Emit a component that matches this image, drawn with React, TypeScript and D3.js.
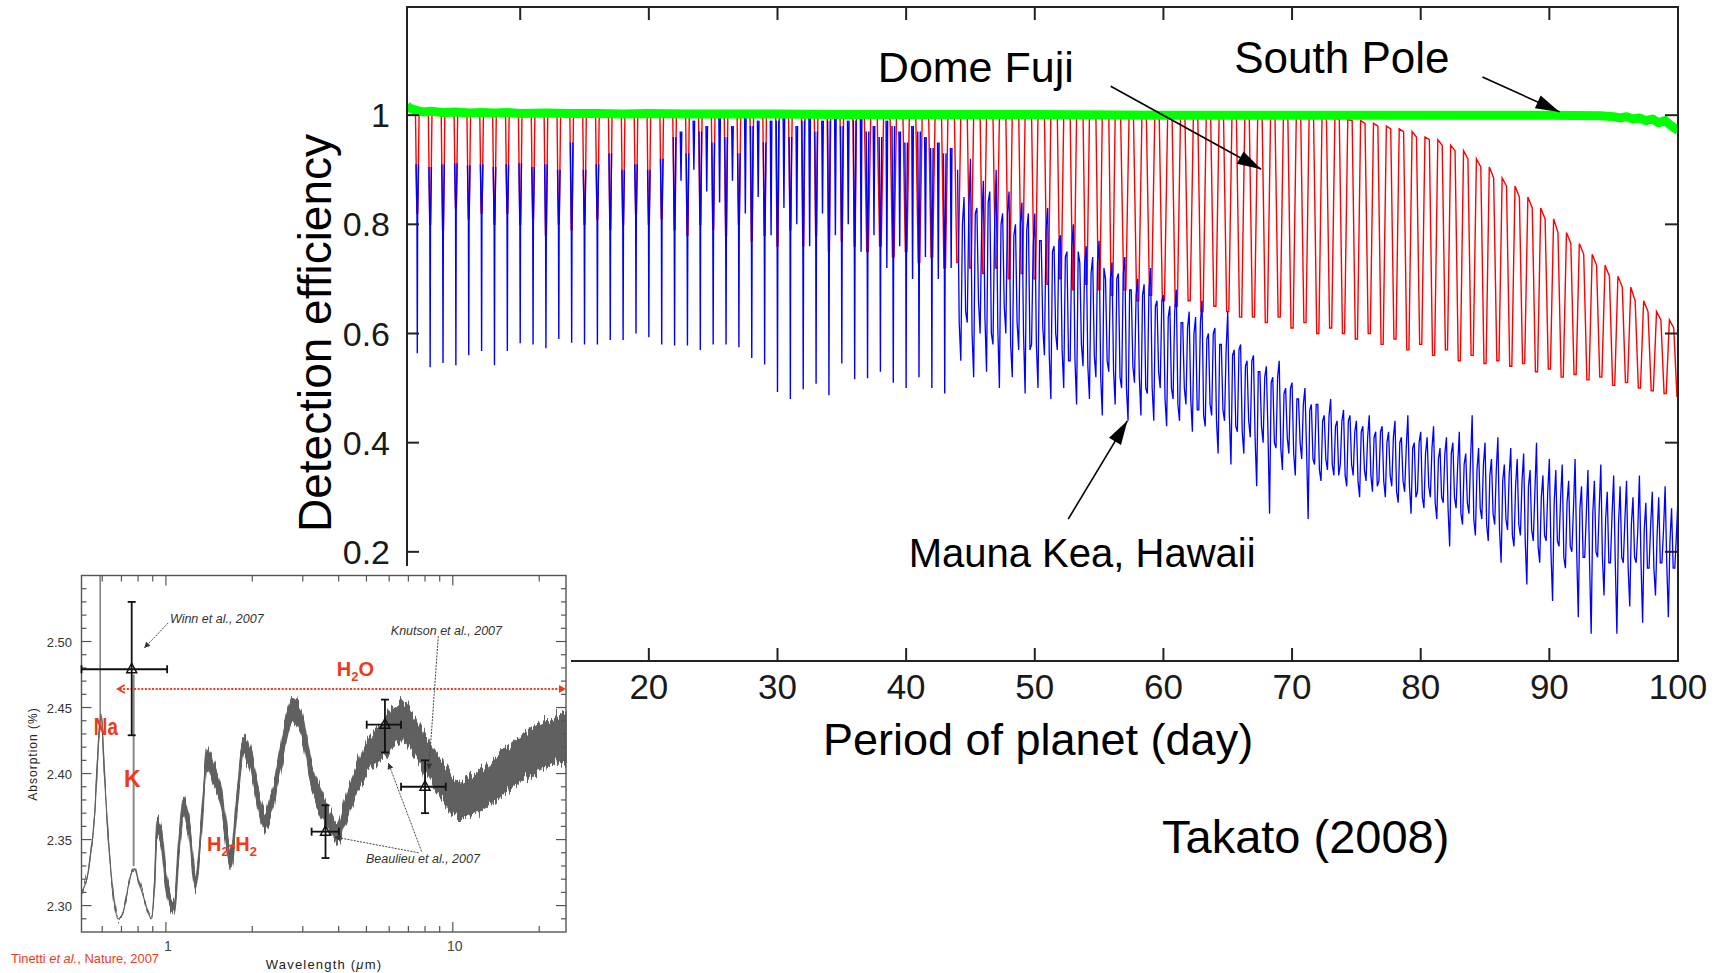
import React from "react";
import * as d3 from "d3";

const W = 1716;
const H = 973;

// ---------------- Main chart data ----------------
const xTicks = [10, 20, 30, 40, 50, 60, 70, 80, 90, 100];
const yTicks = [0.2, 0.4, 0.6, 0.8, 1];
const yTickLabels = ["0.2", "0.4", "0.6", "0.8", "1"];

// Dome Fuji (red): one dip per integer day, peak level and trough level
const domeFujiDays = d3.range(2, 101);
const domeFujiPeak = [
  1, 1, 1, 1, 1, 1, 1, 1, 1, 1,
  1, 1, 1, 1, 1, 1, 1, 1, 1, 1,
  1, 1, 1, 1, 1, 1, 1, 1, 1, 1,
  1, 1, 1, 1, 1, 1, 1, 1, 1, 1,
  1, 1, 1, 1, 1, 1, 1, 1, 1, 1,
  1, 1, 1, 1, 1, 1, 1, 1, 1, 1,
  1, 1, 1, 1, 1, 1, 1, 1, 1, 1,
  0.998, 0.995, 0.992, 0.99, 0.985, 0.98,
  0.975, 0.97, 0.96, 0.955, 0.945, 0.935, 0.92, 0.905, 0.885, 0.87,
  0.85, 0.83, 0.81, 0.785, 0.765, 0.745, 0.725, 0.705, 0.685, 0.66,
  0.64, 0.625, 0.61,
];
const domeFujiTrough = [
  0.82, 0.8, 0.79, 0.83, 0.81, 0.82, 0.8, 0.82, 0.8, 0.81,
  0.78, 0.8, 0.79, 0.8, 0.81, 0.79, 0.8, 0.82, 0.8, 0.81,
  0.79, 0.78, 0.8, 0.79, 0.78, 0.8, 0.77, 0.78, 0.76, 0.79,
  0.76, 0.78, 0.75, 0.77, 0.76, 0.75, 0.76, 0.74, 0.75, 0.73,
  0.74, 0.72, 0.73, 0.72, 0.71, 0.72, 0.7, 0.71, 0.7, 0.69,
  0.7, 0.68, 0.69, 0.68, 0.67, 0.68, 0.66, 0.67, 0.66, 0.65,
  0.66, 0.64, 0.65, 0.64, 0.63, 0.63, 0.62, 0.63, 0.61, 0.62,
  0.6, 0.61, 0.6, 0.59, 0.6, 0.58, 0.59, 0.57, 0.58, 0.56,
  0.57, 0.55, 0.56, 0.545, 0.55, 0.54, 0.545, 0.53, 0.535, 0.52,
  0.525, 0.515, 0.52, 0.505, 0.51, 0.5, 0.495, 0.49, 0.485,
];

// Mauna Kea (blue): daily dips for short periods
const maunaKeaDays = d3.range(2, 44);
const maunaKeaTop = [
  0.91, 0.905, 0.91, 0.912, 0.908, 0.91, 0.905, 0.91, 0.912, 0.905,
  0.91, 0.9, 0.95, 0.9, 0.91, 0.93, 0.9, 0.91, 0.9, 0.92,
  0.96, 0.93, 0.97, 0.95, 0.96, 0.93, 0.98, 0.95, 0.99, 0.96,
  0.99, 0.97, 0.99, 0.98, 0.99, 0.97, 0.96, 0.98, 0.95, 0.97,
  0.94, 0.93,
];
const maunaKeaBottom = [
  0.564, 0.538, 0.546, 0.542, 0.56, 0.568, 0.542, 0.568, 0.582, 0.58,
  0.573, 0.59, 0.583, 0.58, 0.58, 0.588, 0.588, 0.6, 0.593, 0.58,
  0.578, 0.578, 0.57, 0.58, 0.58, 0.575, 0.555, 0.543, 0.493, 0.48,
  0.498, 0.508, 0.487, 0.545, 0.516, 0.518, 0.53, 0.51, 0.5, 0.52,
  0.5, 0.49,
];
// secondary half-day dips
const maunaKeaHalfDays = d3.range(22.5, 44, 1);
const maunaKeaHalfTop = [
  0.97, 0.99, 0.98, 1.0, 0.98, 1.0, 0.99, 0.99, 1.0, 0.98, 1.0,
  0.99, 1.0, 0.99, 1.0, 0.98, 0.99, 0.97, 0.98, 0.96, 0.95, 0.94,
];
const maunaKeaHalfBottom = [
  0.88, 0.9, 0.86, 0.84, 0.88, 0.82, 0.85, 0.78, 0.83, 0.8, 0.76,
  0.82, 0.78, 0.8, 0.75, 0.78, 0.72, 0.76, 0.7, 0.74, 0.7, 0.72,
];
// dense part: quarter-day samples from day 44 to 100 (full swings)
const maunaKeaDensePeriods = d3.range(44, 100.001, 0.25);
const maunaKeaDense = [
  0.9, 0.55, 0.85, 0.62, 0.92, 0.52, 0.83, 0.6, 0.88, 0.53, 0.86, 0.58,
  0.9, 0.5, 0.82, 0.6, 0.86, 0.52, 0.8, 0.57, 0.84, 0.49, 0.82, 0.58,
  0.82, 0.5, 0.77, 0.56, 0.83, 0.48, 0.76, 0.57, 0.78, 0.5, 0.75, 0.55,
  0.8, 0.47, 0.73, 0.54, 0.76, 0.48, 0.74, 0.52, 0.77, 0.45, 0.7, 0.53,
  0.73, 0.47, 0.71, 0.5, 0.74, 0.44, 0.68, 0.51, 0.7, 0.45, 0.69, 0.49,
  0.72, 0.44, 0.66, 0.5, 0.67, 0.43, 0.65, 0.48, 0.68, 0.44, 0.62, 0.47,
  0.64, 0.42, 0.63, 0.46, 0.66, 0.43, 0.6, 0.45, 0.61, 0.38, 0.58, 0.44,
  0.64, 0.36, 0.57, 0.42, 0.58, 0.38, 0.55, 0.41, 0.56, 0.32, 0.53, 0.4,
  0.54, 0.27, 0.52, 0.39, 0.55, 0.35, 0.5, 0.38, 0.51, 0.34, 0.48, 0.37,
  0.5, 0.26, 0.47, 0.36, 0.47, 0.33, 0.45, 0.35, 0.48, 0.34, 0.44, 0.36,
  0.46, 0.32, 0.45, 0.34, 0.44, 0.3, 0.43, 0.33, 0.45, 0.31, 0.42, 0.33,
  0.43, 0.3, 0.42, 0.32, 0.44, 0.29, 0.41, 0.31, 0.45, 0.27, 0.4, 0.31,
  0.42, 0.28, 0.41, 0.3, 0.43, 0.26, 0.39, 0.29, 0.41, 0.21, 0.4, 0.28,
  0.42, 0.25, 0.38, 0.27, 0.45, 0.23, 0.39, 0.26, 0.4, 0.22, 0.37, 0.25,
  0.41, 0.18, 0.36, 0.24, 0.39, 0.21, 0.37, 0.23, 0.38, 0.14, 0.35, 0.22,
  0.4, 0.18, 0.34, 0.22, 0.37, 0.11, 0.35, 0.21, 0.36, 0.17, 0.33, 0.2,
  0.37, 0.08, 0.32, 0.19, 0.35, 0.05, 0.33, 0.19, 0.36, 0.12, 0.31, 0.18,
  0.34, 0.05, 0.32, 0.18, 0.33, 0.1, 0.3, 0.18, 0.34, 0.07, 0.29, 0.17,
  0.31, 0.12, 0.3, 0.18, 0.32, 0.08, 0.28, 0.17, 0.3,
];
// in-between samples (core band), at the eighth-day offsets, days 44..99
const maunaKeaCore = [
  0.62, 0.8, 0.64, 0.83, 0.6, 0.82, 0.66, 0.8, 0.63, 0.84, 0.6, 0.79,
  0.61, 0.8, 0.65, 0.82, 0.58, 0.78, 0.62, 0.8, 0.6, 0.79, 0.57, 0.76,
  0.58, 0.77, 0.61, 0.79, 0.56, 0.75, 0.6, 0.77, 0.57, 0.74, 0.55, 0.76,
  0.55, 0.75, 0.58, 0.73, 0.54, 0.71, 0.56, 0.73, 0.52, 0.72, 0.55, 0.7,
  0.53, 0.7, 0.52, 0.71, 0.5, 0.68, 0.54, 0.67, 0.52, 0.67, 0.5, 0.68,
  0.5, 0.65, 0.53, 0.66, 0.48, 0.63, 0.5, 0.64, 0.47, 0.62, 0.5, 0.61,
  0.48, 0.6, 0.46, 0.62, 0.45, 0.59, 0.47, 0.6, 0.44, 0.58, 0.46, 0.57,
  0.45, 0.56, 0.43, 0.57, 0.42, 0.54, 0.44, 0.55, 0.41, 0.53, 0.43, 0.52,
  0.42, 0.51, 0.4, 0.52, 0.39, 0.49, 0.41, 0.5, 0.38, 0.48, 0.4, 0.47,
  0.39, 0.46, 0.37, 0.47, 0.35, 0.44, 0.37, 0.45, 0.36, 0.43, 0.34, 0.44,
  0.34, 0.44, 0.36, 0.42, 0.33, 0.42, 0.35, 0.41, 0.34, 0.41, 0.32, 0.42,
  0.33, 0.4, 0.34, 0.41, 0.31, 0.4, 0.33, 0.39, 0.32, 0.39, 0.3, 0.4,
  0.3, 0.38, 0.32, 0.39, 0.29, 0.37, 0.3, 0.38, 0.28, 0.38, 0.3, 0.36,
  0.27, 0.36, 0.29, 0.37, 0.26, 0.35, 0.28, 0.36, 0.25, 0.34, 0.27, 0.35,
  0.24, 0.33, 0.26, 0.34, 0.23, 0.32, 0.25, 0.33, 0.22, 0.32, 0.24, 0.31,
  0.21, 0.3, 0.23, 0.31, 0.2, 0.29, 0.22, 0.3, 0.19, 0.29, 0.21, 0.28,
  0.2, 0.28, 0.19, 0.27, 0.18, 0.27, 0.2, 0.28, 0.19, 0.26, 0.18, 0.27,
  0.18, 0.25, 0.19, 0.26, 0.17, 0.25, 0.19, 0.24, 0.18, 0.24, 0.17, 0.25,
  0.17, 0.23, 0.18, 0.24, 0.18, 0.22, 0.17, 0.23,
];

// South Pole (green)
const southPolePeriods = [
  1.2, 1.5, 2, 2.5, 3, 4, 5, 6, 7, 8, 9, 10, 12, 14, 16, 18, 20, 23, 26, 30,
  35, 40, 50, 60, 70, 80, 90, 94, 95, 95.5, 96, 96.5, 97, 97.5, 98, 98.5, 99,
  99.5, 100,
];
const southPoleValues = [
  1.017, 1.012, 1.008, 1.006, 1.007, 1.005, 1.006, 1.004, 1.005, 1.004, 1.005,
  1.003, 1.004, 1.003, 1.003, 1.002, 1.003, 1.002, 1.002, 1.002, 1.001, 1.001,
  1.001, 1.0, 1.0, 1.0, 1.0, 0.999, 0.997, 0.995, 0.997, 0.993, 0.995, 0.99,
  0.993, 0.986, 0.99, 0.98, 0.972,
];

// ---------------- Inset (transmission spectrum) data ----------------
const specWave = [
  0.508, 0.54, 0.565, 0.585, 0.595, 0.61, 0.63, 0.655, 0.68, 0.71, 0.74, 0.76,
  0.78, 0.8, 0.84, 0.89, 0.915, 0.93, 0.96, 1.0, 1.07, 1.11, 1.15, 1.2, 1.27,
  1.33, 1.39, 1.45, 1.55, 1.69, 1.78, 1.87, 1.97, 2.1, 2.2, 2.35, 2.55, 2.75,
  2.95, 3.2, 3.6, 3.94, 4.2, 4.6, 5.1, 5.7, 6.2, 6.7, 7.5, 8.5, 9.5, 10.4, 12,
  14, 17, 20, 24.8,
];
const specAbs = [
  2.31, 2.33, 2.37, 2.43, 2.445, 2.4, 2.35, 2.31, 2.29, 2.295, 2.315, 2.325,
  2.328, 2.32, 2.305, 2.29, 2.32, 2.36, 2.355, 2.32, 2.3, 2.345, 2.375, 2.36,
  2.318, 2.36, 2.412, 2.405, 2.385, 2.335, 2.385, 2.42, 2.41, 2.38, 2.365,
  2.38, 2.42, 2.447, 2.44, 2.4, 2.37, 2.355, 2.37, 2.395, 2.415, 2.425, 2.435,
  2.44, 2.425, 2.405, 2.39, 2.38, 2.385, 2.395, 2.41, 2.42, 2.428,
];
const specHalf = [
  0, 0, 0, 0, 0, 0, 0, 0, 0, 0, 0, 0, 0, 0, 0, 0, 0.004, 0.006, 0.007, 0.006,
  0.005, 0.007, 0.007, 0.007, 0.006, 0.007, 0.008, 0.008, 0.008, 0.007, 0.008,
  0.008, 0.008, 0.008, 0.007, 0.008, 0.009, 0.009, 0.009, 0.009, 0.009, 0.007,
  0.01, 0.011, 0.012, 0.013, 0.014, 0.015, 0.015, 0.014, 0.014, 0.014, 0.015,
  0.016, 0.017, 0.018, 0.018,
];
const errWave = [0.76, 3.6, 5.8, 8.0];
const errAbs = [2.479, 2.356, 2.437, 2.39];
const errWaveLo = [0.508, 3.22, 5.01, 6.6];
const errWaveHi = [1.01, 4.01, 6.6, 9.45];
const errAbsLo = [2.429, 2.336, 2.416, 2.37];
const errAbsHi = [2.53, 2.376, 2.456, 2.41];
const insetYMajor = [2.3, 2.35, 2.4, 2.45, 2.5];
const insetYLabels = ["2.30", "2.35", "2.40", "2.45", "2.50"];
const insetXTicks = [0.6, 0.7, 0.8, 0.9, 1, 2, 3, 4, 5, 6, 7, 8, 9, 10, 20];
const insetXMajor = [1, 10];
const insetXLabels = ["1", "10"];

function arrowHead(x1: number, y1: number, x2: number, y2: number, len: number, half: number) {
  const a = Math.atan2(y2 - y1, x2 - x1);
  const bx = x2 - len * Math.cos(a);
  const by = y2 - len * Math.sin(a);
  const px = -Math.sin(a) * half;
  const py = Math.cos(a) * half;
  return `${x2},${y2} ${bx + px},${by + py} ${bx - px},${by - py}`;
}

export default function App() {
  const x = d3.scaleLinear().domain([1.2, 100]).range([407, 1678]);
  const y = d3.scaleLinear().domain([0, 1.2]).range([661, 6]);
  const line = d3
    .line<[number, number]>()
    .x((d) => x(d[0]))
    .y((d) => y(d[1]));

  // red
  const redPts: [number, number][] = [[1.2, 1]];
  domeFujiDays.forEach((d, i) => {
    const hw = d <= 36 ? 0.14 : d <= 56 ? 0.25 : 0.33;
    const pk = domeFujiPeak[i];
    const tr = domeFujiTrough[i];
    redPts.push([d - hw, pk], [d - hw * 0.25, tr], [d + hw * 0.25, tr], [d + hw, pk]);
  });
  const redPath = line(redPts) || "";

  // blue strokes
  let blueStrokes = "";
  maunaKeaDays.forEach((d, i) => {
    const top = maunaKeaTop[i];
    const bot = maunaKeaBottom[i];
    const knee = Math.min(top, domeFujiTrough[i]);
    blueStrokes += `M${x(d - 0.1)},${y(top)}L${x(d - 0.025)},${y(knee)}L${x(d)},${y(bot)}L${x(d + 0.025)},${y(knee)}L${x(d + 0.1)},${y(top)}`;
  });
  maunaKeaHalfDays.forEach((d, i) => {
    const t = maunaKeaHalfTop[i];
    const b = maunaKeaHalfBottom[i];
    blueStrokes += `M${x(d - 0.06)},${y(t)}L${x(d)},${y(b)}L${x(d + 0.06)},${y(t)}`;
  });
  const bluePts: [number, number][] = [];
  maunaKeaDensePeriods.forEach((p, i) => {
    bluePts.push([p, maunaKeaDense[i]]);
    if (i < maunaKeaCore.length) bluePts.push([p + 0.125, maunaKeaCore[i]]);
  });
  const blueDense = line(bluePts) || "";

  const greenPts: [number, number][] = southPolePeriods.map((p, i) => [p, southPoleValues[i]]);
  const greenPath = line(greenPts) || "";

  // annotations in data coordinates
  const ann = {
    df: { lx: 37.8, ly: 1.06, ax: 55.9, ay: 1.053, tx: 67.6, ty: 0.901 },
    sp: { lx: 65.5, ly: 1.077, ax: 84.8, ay: 1.07, tx: 90.8, ty: 1.006 },
    mk: { lx: 40.2, ly: 0.172, ax: 52.6, ay: 0.26, tx: 57.2, ty: 0.44 },
  };

  // inset scales
  const ix = d3.scaleLog().domain([0.508, 24.8]).range([81.5, 566]);
  const iy = d3.scaleLinear().domain([2.28, 2.55]).range([932, 575.5]);
  const idx = specWave.map((_, i) => i);
  const specArea =
    d3
      .area<number>()
      .x((i) => ix(specWave[i]))
      .y0((i) => iy(specAbs[i] - specHalf[i]))
      .y1((i) => iy(specAbs[i] + specHalf[i]))
      .curve(d3.curveMonotoneX)(idx) || "";
  const specLine =
    d3
      .line<number>()
      .x((i) => ix(specWave[i]))
      .y((i) => iy(specAbs[i]))
      .curve(d3.curveMonotoneX)(idx) || "";
  const insetMinor = d3.range(229, 255, 1).map((v) => v / 100);

  const redInset = "#ee3a1c";
  const font = "'Liberation Sans', Arial, sans-serif";

  const x0 = 407, x1 = 1678, yTop = 7, yBot = 661;

  return (
    <svg
      width={W}
      height={H}
      style={{ position: "absolute", left: 0, top: 0, background: "#fff" }}
      fontFamily={font}
    >
      <defs>
        <clipPath id="plotClip">
          <rect x={x0} y={yTop} width={x1 - x0} height={yBot - yTop} />
        </clipPath>
        <filter id="rough" x="-5%" y="-20%" width="110%" height="140%">
          <feTurbulence type="fractalNoise" baseFrequency="0.45 0.015" numOctaves={2} seed={4} result="n" />
          <feColorMatrix
            in="n"
            type="matrix"
            values="0 0 0 0 0.5  0 1.6 0 0 -0.3  0 0 0 0 0.5  0 0 0 0 1"
            result="m"
          />
          <feDisplacementMap in="SourceGraphic" in2="m" scale={14} xChannelSelector="R" yChannelSelector="G" />
        </filter>
      </defs>
      <rect x={0} y={0} width={W} height={H} fill="#fff" />

      {/* series */}
      <g clipPath="url(#plotClip)">
        <path d={redPath} fill="none" stroke="#ff0000" strokeWidth={1.4} />
        <path d={blueStrokes} fill="none" stroke="#0000ff" strokeWidth={1.4} />
        <path d={blueDense} fill="none" stroke="#0000ff" strokeWidth={1.3} />
        <path d={greenPath} fill="none" stroke="#00ff00" strokeWidth={9} strokeLinejoin="round" />
      </g>

      {/* frame */}
      <rect x={x0} y={yTop} width={x1 - x0} height={yBot - yTop} fill="none" stroke="#222" strokeWidth={2} />
      {xTicks.map((t) => (
        <g key={"xt" + t}>
          <line x1={x(t)} x2={x(t)} y1={yBot} y2={yBot - 13} stroke="#222" strokeWidth={2} />
          <line x1={x(t)} x2={x(t)} y1={yTop} y2={yTop + 13} stroke="#222" strokeWidth={2} />
          <text x={x(t)} y={699} textAnchor="middle" fontSize={35} fill="#1a1a1a">
            {t}
          </text>
        </g>
      ))}
      {yTicks.map((t, i) => (
        <g key={"yt" + t}>
          <line x1={x0} x2={x0 + 12} y1={y(t)} y2={y(t)} stroke="#222" strokeWidth={2} />
          <line x1={x1} x2={x1 - 13} y1={y(t)} y2={y(t)} stroke="#222" strokeWidth={2} />
          <text x={390} y={y(t) + 12} textAnchor="end" fontSize={34} fill="#1a1a1a">
            {yTickLabels[i]}
          </text>
        </g>
      ))}
      <text x={1038} y={755} textAnchor="middle" fontSize={45} fill="#000">
        Period of planet (day)
      </text>
      <text transform="translate(331,333) rotate(-90)" textAnchor="middle" fontSize={46} fill="#000">
        Detection efficiency
      </text>

      {/* annotations */}
      <text x={x(ann.df.lx)} y={y(ann.df.ly)} fontSize={43} fill="#000">
        Dome Fuji
      </text>
      <text x={x(ann.sp.lx)} y={y(ann.sp.ly)} fontSize={44} fill="#000">
        South Pole
      </text>
      <text x={x(ann.mk.lx)} y={y(ann.mk.ly)} fontSize={40} fill="#000">
        Mauna Kea, Hawaii
      </text>
      {[ann.df, ann.sp, ann.mk].map((a, i) => (
        <g key={"ar" + i}>
          <line x1={x(a.ax)} y1={y(a.ay)} x2={x(a.tx)} y2={y(a.ty)} stroke="#000" strokeWidth={1.6} />
          <polygon points={arrowHead(x(a.ax), y(a.ay), x(a.tx), y(a.ty), 24, 7)} fill="#000" />
        </g>
      ))}
      <text x={1162} y={853} fontSize={47} fill="#000">
        Takato (2008)
      </text>

      {/* inset */}
      <g>
        <rect x={0} y={566} width={571} height={407} fill="#fff" />
        <path d={specLine} fill="none" stroke="#666" strokeWidth={1.2} />
        <g filter="url(#rough)">
          <path d={specArea} fill="#606060" stroke="#606060" strokeWidth={1.2} />
        </g>
        {/* Na and K lines */}
        <line x1={ix(0.59)} x2={ix(0.59)} y1={iy(2.44)} y2={iy(2.55)} stroke="#666" strokeWidth={1.3} />
        <line x1={ix(0.772)} x2={ix(0.772)} y1={iy(2.33)} y2={iy(2.475)} stroke="#888" strokeWidth={2} />

        {/* frame and ticks */}
        <rect x={81.5} y={575.5} width={566 - 81.5} height={932 - 575.5} fill="none" stroke="#555" strokeWidth={1.4} />
        {insetMinor.map((v) => {
          const major = insetYMajor.some((m) => Math.abs(m - v) < 1e-6);
          const len = major ? 10 : 5;
          return (
            <g key={"iym" + v}>
              <line x1={81.5} x2={81.5 + len} y1={iy(v)} y2={iy(v)} stroke="#555" strokeWidth={1.2} />
              <line x1={566} x2={566 - len} y1={iy(v)} y2={iy(v)} stroke="#555" strokeWidth={1.2} />
            </g>
          );
        })}
        {insetYMajor.map((v, i) => (
          <text key={"iyl" + v} x={72} y={iy(v) + 5} textAnchor="end" fontSize={13} fill="#333">
            {insetYLabels[i]}
          </text>
        ))}
        {insetXTicks.map((v) => {
          const len = insetXMajor.includes(v) ? 10 : 6;
          return (
            <g key={"ixt" + v}>
              <line x1={ix(v)} x2={ix(v)} y1={932} y2={932 - len} stroke="#555" strokeWidth={1.2} />
              <line x1={ix(v)} x2={ix(v)} y1={575.5} y2={575.5 + len} stroke="#555" strokeWidth={1.2} />
            </g>
          );
        })}
        {insetXMajor.map((v, i) => (
          <text key={"ixl" + v} x={ix(v) + 2} y={951} textAnchor="middle" fontSize={14} fill="#444">
            {insetXLabels[i]}
          </text>
        ))}
        <text x={324} y={969} textAnchor="middle" fontSize={13} letterSpacing={1.2} fill="#222">
          Wavelength (<tspan fontStyle="italic">μ</tspan>m)
        </text>
        <text transform="translate(37,754) rotate(-90)" textAnchor="middle" fontSize={12} letterSpacing={1} fill="#222">
          Absorption (%)
        </text>
        <text x={11} y={963} fontSize={13.5} fill={redInset} textLength={148} lengthAdjust="spacingAndGlyphs">
          Tinetti <tspan fontStyle="italic">et al.</tspan>, Nature, 2007
        </text>

        {/* H2O dotted double arrow */}
        <line x1={ix(0.69)} x2={ix(24.2)} y1={iy(2.464)} y2={iy(2.464)} stroke={redInset} strokeWidth={2} strokeDasharray="2,1.6" />
        <polyline
          points={`${ix(0.68) + 7},${iy(2.464) - 4} ${ix(0.68)},${iy(2.464)} ${ix(0.68) + 7},${iy(2.464) + 4}`}
          fill="none"
          stroke={redInset}
          strokeWidth={1.8}
        />
        <polygon points={arrowHead(ix(20), iy(2.464), ix(24.8), iy(2.464), 7, 4)} fill={redInset} />

        {/* error bars */}
        {errWave.map((w, i) => {
          const cx = ix(w);
          const cy = iy(errAbs[i]);
          const xl = ix(errWaveLo[i]);
          const xr = ix(errWaveHi[i]);
          const yt = iy(errAbsHi[i]);
          const yb = iy(errAbsLo[i]);
          return (
            <g key={"eb" + i} stroke="#111" strokeWidth={1.8} fill="none">
              <line x1={xl} x2={xr} y1={cy} y2={cy} />
              <line x1={cx} x2={cx} y1={yt} y2={yb} />
              <line x1={cx - 4} x2={cx + 4} y1={yt} y2={yt} />
              <line x1={cx - 4} x2={cx + 4} y1={yb} y2={yb} />
              <line x1={xl} x2={xl} y1={cy - 4} y2={cy + 4} />
              <line x1={xr} x2={xr} y1={cy - 4} y2={cy + 4} />
              <polygon
                points={`${cx},${cy - 6} ${cx - 5},${cy + 3.5} ${cx + 5},${cy + 3.5}`}
                strokeWidth={1.5}
              />
            </g>
          );
        })}

        {/* reference annotations */}
        <g fontSize={12.5} fontStyle="italic" fill="#333">
          <text x={ix(1.033)} y={iy(2.514)}>Winn et al., 2007</text>
          <text x={ix(6.08)} y={iy(2.505)}>Knutson et al., 2007</text>
          <text x={ix(4.98)} y={iy(2.332)}>Beaulieu et al., 2007</text>
        </g>
        <g stroke="#444" strokeWidth={1} strokeDasharray="2,1.2" fill="none">
          <line x1={ix(1.018)} y1={iy(2.514)} x2={ix(0.84)} y2={iy(2.495)} />
          <line x1={ix(8.9)} y1={iy(2.504)} x2={ix(8.25)} y2={iy(2.403)} />
          <line x1={ix(7.78)} y1={iy(2.341)} x2={ix(5.96)} y2={iy(2.408)} />
          <line x1={ix(7.6)} y1={iy(2.34)} x2={ix(3.87)} y2={iy(2.352)} />
        </g>
        <g fill="#333">
          <polygon points={arrowHead(ix(1.018), iy(2.514), ix(0.84), iy(2.495), 6, 3)} />
          <polygon points={arrowHead(ix(8.9), iy(2.504), ix(8.25), iy(2.403), 6, 3)} />
          <polygon points={arrowHead(ix(7.78), iy(2.341), ix(5.96), iy(2.408), 6, 3)} />
          <polygon points={arrowHead(ix(7.6), iy(2.34), ix(3.87), iy(2.352), 6, 3)} />
        </g>

        {/* red molecule labels */}
        <g fill={redInset} fontWeight="bold" fontFamily="'Liberation Sans Narrow', 'Liberation Sans', Arial, sans-serif">
          <text x={ix(0.561)} y={iy(2.429)} fontSize={23} textLength={24} lengthAdjust="spacingAndGlyphs">
            Na
          </text>
          <text x={ix(0.714)} y={iy(2.39)} fontSize={23}>
            K
          </text>
          <text x={ix(1.39)} y={iy(2.341)} fontSize={20}>
            H<tspan fontSize={13} dy={5}>2</tspan>
            <tspan dy={-5}>-H</tspan>
            <tspan fontSize={13} dy={5}>2</tspan>
          </text>
          <text x={ix(3.94)} y={iy(2.474)} fontSize={20}>
            H<tspan fontSize={13} dy={5}>2</tspan>
            <tspan dy={-5}>O</tspan>
          </text>
        </g>
      </g>
    </svg>
  );
}
